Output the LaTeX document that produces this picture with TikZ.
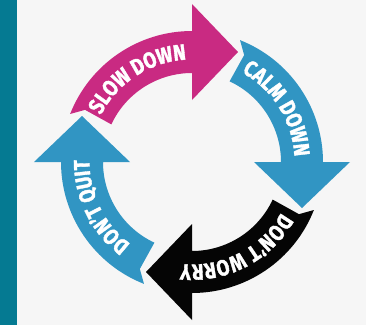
\documentclass[tikz,border=0pt]{standalone}
\usepackage{fontspec}
\newfontfamily\arrowfont{Fira Sans}[FakeStretch=0.84, BoldFeatures={FakeBold=1.6}]
\usetikzlibrary{decorations.text}
\definecolor{bg}{HTML}{F6F6F6}
\definecolor{barcol}{HTML}{057A92}
\definecolor{magcol}{HTML}{C92A82}
\definecolor{skycol}{HTML}{3195C3}
\definecolor{inkcol}{HTML}{050505}
\newcommand{\arrtxt}{\arrowfont\bfseries\fontsize{19}{19}\selectfont\color{white}}
\tikzset{
  ringarrow/.pic={
    \fill[pic actions] (68.5:131) arc[start angle=68.5, end angle=0, radius=131]
      -- (158,0) -- (110,-46) -- (62,0) -- (89,0)
      arc[start angle=0, end angle=65, radius=89] -- (64:119) -- cycle;
  },
  arrowlabel/.style={decorate, decoration={text along path, text align=center, text={|\arrtxt|#1}}}
}
\begin{document}
\begin{tikzpicture}[x=0.03cm, y=0.03cm]
  \fill[bg] (-192,-163) rectangle (174,162);
  \useasboundingbox (-192,-163) rectangle (174,162);
  \fill[barcol] (-192,-163) rectangle (-174.5,162);
  \pic[fill=magcol, rotate=90] {ringarrow};
  \pic[fill=skycol, rotate=0] {ringarrow};
  \pic[fill=inkcol, rotate=-90] {ringarrow};
  \pic[fill=skycol, rotate=180] {ringarrow};
  \path[arrowlabel={SLOW DOWN}] (168:102.5) arc[start angle=168, end angle=78, radius=102.5];
  \path[arrowlabel={CALM DOWN}] (77:102.5) arc[start angle=77, end angle=-13, radius=102.5];
  \path[arrowlabel={DON’T WORRY}] (-18:102.5) arc[start angle=-18, end angle=-108, radius=102.5];
  \path[arrowlabel={DON’T QUIT}] (251:102.5) arc[start angle=251, end angle=161, radius=102.5];
\end{tikzpicture}
\end{document}
